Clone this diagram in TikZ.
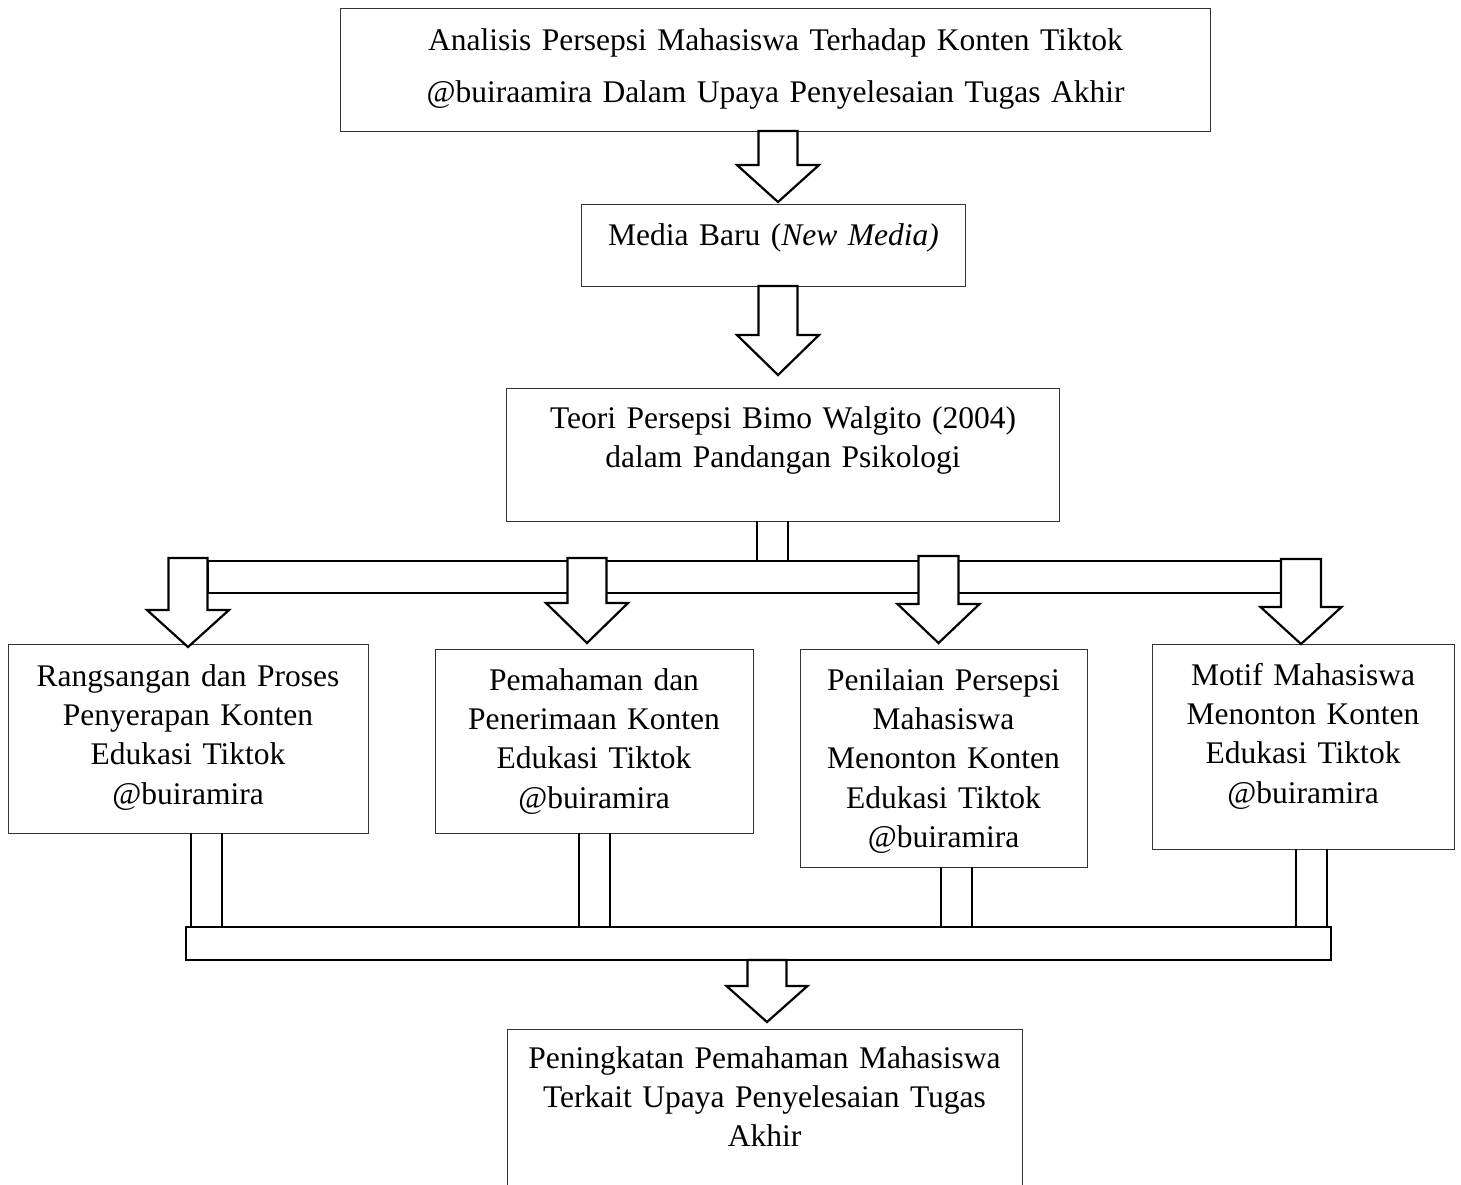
\documentclass[tikz,border=0pt]{standalone}
\usepackage{fontspec}
\setmainfont{Liberation Serif}
\newcommand\blockarrow[6]{% x, half shaft, half head, y top, y head, y tip
  \draw[barr] ({#1-#2},#4) -- ({#1-#2},#5) -- ({#1-#3},#5) -- (#1,#6) -- ({#1+#3},#5) -- ({#1+#2},#5) -- ({#1+#2},#4) -- cycle;}
\newcommand\twolines[4]{% x1, x2, y1, y2
  \draw[shaft] (#1,#3) -- (#1,#4) (#2,#3) -- (#2,#4);}
\begin{document}
\begin{tikzpicture}[x=1pt,y=-1pt,
  box/.style={draw=black!80, line width=1.3pt, fill=white, inner sep=0pt, anchor=north west},
  txt/.style={inner sep=0pt, anchor=north, align=center, font=\fontsize{31.5}{39.3}\selectfont},
  barr/.style={draw=black, line width=2.2pt, fill=white, line join=miter},
  shaft/.style={draw=black, line width=2pt},
  bus/.style={draw=black, line width=2.6pt, fill=white}]
\useasboundingbox (0,0) rectangle (1461,1184);
% boxes
\node[box, minimum width=870pt, minimum height=123pt] (top) at (340,8) {};
\node[box, minimum width=384pt, minimum height=82pt] (media) at (581,204) {};
\node[box, minimum width=553pt, minimum height=133pt] (teori) at (506,388) {};
\node[box, minimum width=360pt, minimum height=189pt] (ba) at (8,644) {};
\node[box, minimum width=318pt, minimum height=184pt] (bb) at (435,649) {};
\node[box, minimum width=287pt, minimum height=218pt] (bc) at (800,649) {};
\node[box, minimum width=302pt, minimum height=205pt] (bd) at (1152,644) {};
\node[box, minimum width=515pt, minimum height=165pt] (fin) at (507,1029) {};
% texts
\node[txt, text width=860pt, font=\fontsize{31.5}{52}\selectfont] (ttop) at (775.5,22) {\rule{0pt}{28pt}Analisis Persepsi Mahasiswa Terhadap Konten Tiktok\\@buiraamira Dalam Upaya Penyelesaian Tugas Akhir};
\node[txt, text width=380pt] (tmedia) at (773.5,217) {\rule{0pt}{28pt}Media Baru (\textit{New Media)}};
\node[txt, text width=545pt] (tteori) at (783,400) {\rule{0pt}{28pt}Teori Persepsi Bimo Walgito (2004)\\dalam Pandangan Psikologi};
\node[txt, text width=350pt] (tba) at (188,658) {\rule{0pt}{28pt}Rangsangan dan Proses\\Penyerapan Konten\\Edukasi Tiktok\\@buiramira};
\node[txt, text width=310pt] (tbb) at (594,662) {\rule{0pt}{28pt}Pemahaman dan\\Penerimaan Konten\\Edukasi Tiktok\\@buiramira};
\node[txt, text width=280pt] (tbc) at (943.5,662) {\rule{0pt}{28pt}Penilaian Persepsi\\Mahasiswa\\Menonton Konten\\Edukasi Tiktok\\@buiramira};
\node[txt, text width=295pt] (tbd) at (1303,657) {\rule{0pt}{28pt}Motif Mahasiswa\\Menonton Konten\\Edukasi Tiktok\\@buiramira};
\node[txt, text width=510pt] (tfin) at (764.5,1040) {\rule{0pt}{28pt}Peningkatan Pemahaman Mahasiswa\\Terkait Upaya Penyelesaian Tugas\\Akhir};
% arrows top
\blockarrow{778}{19.5}{41}{131}{165}{202}
\blockarrow{778}{19.5}{41}{286}{335}{375}
% stub from teori to bus
\twolines{756.5}{787.5}{521}{561}
% upper bus
\draw[bus] (207.5,561) rectangle (1281,593);
\blockarrow{188}{19.5}{41}{558}{610}{647}
\blockarrow{587}{19.5}{41}{558}{603}{643}
\blockarrow{938.5}{20}{41}{556}{604}{643}
\blockarrow{1301}{20}{40.5}{559}{607}{644}
% lower shafts
\twolines{190.5}{222}{833}{927}
\twolines{579}{610}{833}{927}
\twolines{940.5}{972}{867}{927}
\twolines{1296}{1327}{849}{927}
% lower bus
\draw[bus] (186,927) rectangle (1331,960);
\blockarrow{767}{19.5}{40.5}{960}{986}{1022}
\end{tikzpicture}
\end{document}
